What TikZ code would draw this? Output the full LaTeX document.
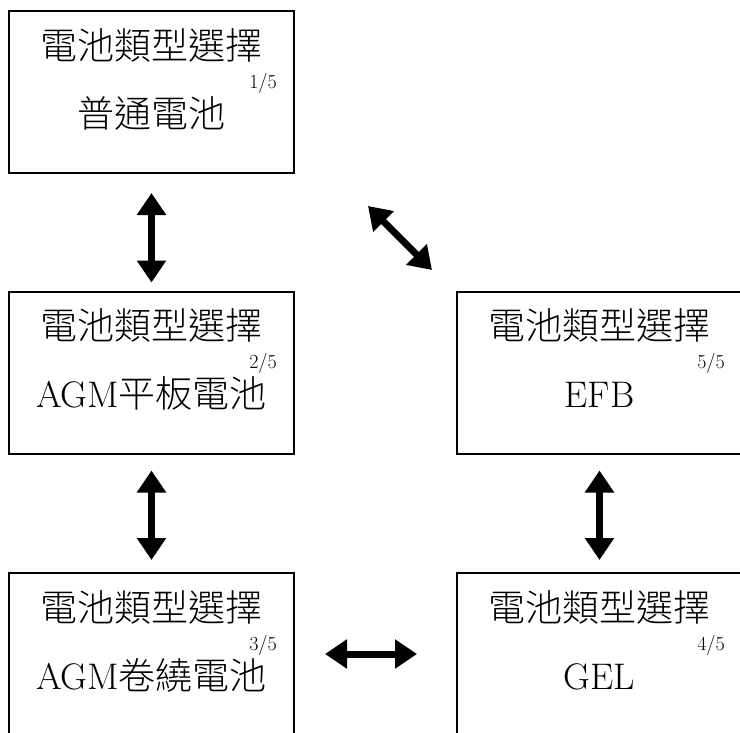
\documentclass[tikz,border=0pt]{standalone}
\usepackage{fontspec}
\IfFontExistsTF{Noto Sans CJK TC Light}{\newfontfamily\cjk{Noto Sans CJK TC Light}}{\newfontfamily\cjk{Noto Sans CJK TC}}
\usetikzlibrary{arrows.meta}
\begin{document}
\begin{tikzpicture}[x=1pt,y=-1pt,
 box/.style={draw, line width=2pt, minimum width=285pt, minimum height=162pt, inner sep=0pt},
 ttl/.style={anchor=base, inner sep=0pt, font=\fontsize{37}{40}\selectfont\cjk},
 sub/.style={anchor=base, inner sep=0pt, font=\fontsize{37}{40}\selectfont},
 pg/.style={anchor=base east, inner sep=0pt, font=\fontsize{20}{22}\selectfont},
 dbl/.style={line width=7pt, {Triangle[length=22pt,width=28pt]}-{Triangle[length=22pt,width=28pt]}}
]
\useasboundingbox (0,0) rectangle (740,732);
\node[box] (b1) at (151.5,92) {};
\node[box] (b2) at (151.5,372.5) {};
\node[box] (b3) at (151.5,654) {};
\node[box] (b5) at (599.5,372.5) {};
\node[box] (b4) at (599.5,654) {};
\foreach \b/\n/\s in {b1/1/{\cjk 普通電池}, b2/2/{AGM{\cjk 平板電池}}, b3/3/{AGM{\cjk 卷繞電池}}, b4/4/{GEL}, b5/5/{EFB}}{
  \node[ttl] (t\n) at ([yshift=-49pt]\b.north) {電池類型選擇};
  \node[pg] (p\n) at ([xshift=-18pt,yshift=-78pt]\b.north east) {\n/5};
  \node[sub] (s\n) at ([yshift=-117pt]\b.north) {\s};
}
\draw[dbl, shorten <=19pt, shorten >=8pt] (b1.south) -- (b2.north);
\draw[dbl, shorten <=16pt, shorten >=12pt] (b2.south) -- (b3.north);
\draw[dbl, shorten <=16pt, shorten >=12pt] (b5.south) -- (b4.north);
\draw[dbl, shorten <=30pt, shorten >=39pt] (b3.east) -- (b4.west);
\coordinate (d1) at (368,206);
\coordinate (d2) at (432,270);
\draw[dbl] (d1) -- (d2);
\end{tikzpicture}
\end{document}
